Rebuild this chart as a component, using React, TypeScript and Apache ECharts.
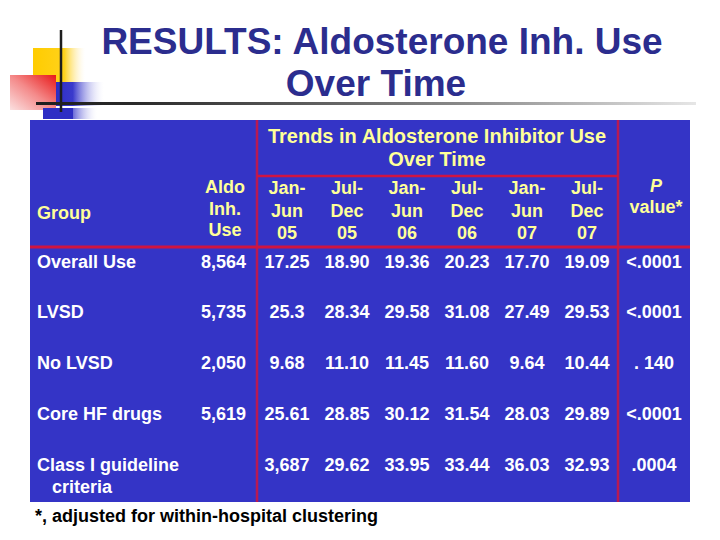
import React, { useEffect, useRef } from "react";
import * as echarts from "echarts";

const titleLines = ["RESULTS: Aldosterone Inh. Use", "Over Time"];
const trendsTitle = ["Trends in Aldosterone Inhibitor Use", "Over Time"];
const groupHeader = "Group";
const aldoHeader = ["Aldo", "Inh.", "Use"];
const periodHeaders = [
  ["Jan-", "Jun", "05"],
  ["Jul-", "Dec", "05"],
  ["Jan-", "Jun", "06"],
  ["Jul-", "Dec", "06"],
  ["Jan-", "Jun", "07"],
  ["Jul-", "Dec", "07"],
];
const pHeader = ["P", "value*"];
const groups = [["Overall Use"], ["LVSD"], ["No LVSD"], ["Core HF drugs"], ["Class I guideline", "   criteria"]];
const aldoCounts = ["8,564", "5,735", "2,050", "5,619", ""];
const rateOverall = ["17.25", "18.90", "19.36", "20.23", "17.70", "19.09"];
const rateLVSD = ["25.3", "28.34", "29.58", "31.08", "27.49", "29.53"];
const rateNoLVSD = ["9.68", "11.10", "11.45", "11.60", "9.64", "10.44"];
const rateCoreHF = ["25.61", "28.85", "30.12", "31.54", "28.03", "29.89"];
const rateClassI = ["3,687", "29.62", "33.95", "33.44", "36.03", "32.93"];
const pValues = ["<.0001", "<.0001", ". 140", "<.0001", ".0004"];
const footnote = "*, adjusted for within-hospital clustering";

const rates = [rateOverall, rateLVSD, rateNoLVSD, rateCoreHF, rateClassI];

export default function App() {
  const ref = useRef<HTMLDivElement>(null);
  useEffect(() => {
    if (!ref.current) return;
    const chart = echarts.init(ref.current, null, { renderer: "svg" });
    const F = "Liberation Sans, Arial, sans-serif";
    const yellow = "#FFFF99";
    const white = "#FFFFFF";
    const tableBg = "#3434C6";
    const red = "#D01440";
    const vred = "#B81A52";
    const tx = (text: string, x: number, y: number, size: number, fill: string, align = "center", weight = "bold", style = "normal") => ({
      type: "text",
      z: 10,
      style: {
        text,
        x,
        y,
        fill,
        font: `${style} ${weight} ${size}px ${F}`,
        textAlign: align,
        textVerticalAlign: "middle",
      },
    });
    const els: any[] = [];
    // decoration
    els.push({
      type: "rect",
      shape: { x: 33, y: 48, width: 52, height: 35 },
      style: {
        fill: new echarts.graphic.LinearGradient(0, 0, 1, 0, [
          { offset: 0, color: "#FFCC00" },
          { offset: 0.6, color: "#FFD21A" },
          { offset: 1, color: "rgba(255,240,200,0)" },
        ]),
      },
    });
    els.push({
      type: "rect",
      shape: { x: 56, y: 82, width: 48, height: 24 },
      style: {
        fill: new echarts.graphic.LinearGradient(0, 0, 1, 0, [
          { offset: 0, color: "#2E2EC4" },
          { offset: 0.35, color: "#3A3ACC" },
          { offset: 1, color: "rgba(230,230,250,0)" },
        ]),
      },
    });
    els.push({
      type: "rect",
      shape: { x: 10, y: 75, width: 46, height: 35 },
      style: {
        fill: new echarts.graphic.LinearGradient(0, 1, 1, 0, [
          { offset: 0, color: "#FBE0E0" },
          { offset: 0.5, color: "#F48A8A" },
          { offset: 1, color: "#E81818" },
        ]),
      },
    });
    els.push({
      type: "rect",
      shape: { x: 43, y: 108, width: 30, height: 11 },
      style: { fill: "#2E2EC4" },
    });
    els.push({
      type: "rect",
      shape: { x: 73, y: 108, width: 24, height: 11 },
      style: {
        fill: new echarts.graphic.LinearGradient(0, 0, 1, 0, [
          { offset: 0, color: "#6A6AD8" },
          { offset: 1, color: "rgba(230,230,250,0)" },
        ]),
      },
    });
    els.push({
      type: "line",
      shape: { x1: 61, y1: 30, x2: 61, y2: 112 },
      style: { stroke: "#1E1E1E", lineWidth: 2.5 },
      z: 5,
    });
    els.push({
      type: "rect",
      shape: { x: 36, y: 102, width: 660, height: 3 },
      style: {
        fill: new echarts.graphic.LinearGradient(0, 0, 1, 0, [
          { offset: 0, color: "#1E1E1E" },
          { offset: 0.15, color: "#2A2A2A" },
          { offset: 0.65, color: "#8A8A8A" },
          { offset: 1, color: "#E6E6E6" },
        ]),
      },
      z: 5,
    });
    // title
    els.push(tx(titleLines[0], 382, 41, 37, "#2B2D8E"));
    els.push(tx(titleLines[1], 376, 83, 37, "#2B2D8E"));
    // table
    els.push({ type: "rect", shape: { x: 30, y: 120, width: 660, height: 382 }, style: { fill: tableBg }, z: 1 });
    els.push({ type: "line", shape: { x1: 257, y1: 176, x2: 618, y2: 176 }, style: { stroke: red, lineWidth: 2.5 }, z: 3 });
    els.push({ type: "line", shape: { x1: 30, y1: 247, x2: 690, y2: 247 }, style: { stroke: red, lineWidth: 3 }, z: 3 });
    els.push({ type: "line", shape: { x1: 257, y1: 120, x2: 257, y2: 502 }, style: { stroke: vred, lineWidth: 2.5 }, z: 2 });
    els.push({ type: "line", shape: { x1: 618, y1: 120, x2: 618, y2: 502 }, style: { stroke: vred, lineWidth: 2.5 }, z: 2 });
    // header
    els.push(tx(trendsTitle[0], 437, 136, 20, yellow));
    els.push(tx(trendsTitle[1], 437, 159, 20, yellow));
    els.push(tx(groupHeader, 37, 213, 18, yellow, "left"));
    aldoHeader.forEach((t, i) => els.push(tx(t, 225, 187 + i * 21.5, 18, yellow)));
    const colX = [287, 347, 407, 467, 527, 587];
    periodHeaders.forEach((lines, c) =>
      lines.forEach((t, i) => els.push(tx(t, colX[c], 188 + i * 22.5, 18, yellow)))
    );
    els.push(tx(pHeader[0], 656, 186, 18, yellow, "center", "bold", "italic"));
    els.push(tx(pHeader[1], 656, 207, 18, yellow));
    // body
    const rowY = [262, 312, 363, 414, 465];
    groups.forEach((lines, r) =>
      lines.forEach((t, i) => els.push(tx(t, 37, rowY[r] + i * 22, 18, white, "left")))
    );
    aldoCounts.forEach((t, r) => {
      if (t) els.push(tx(t, 246, rowY[r], 18, white, "right"));
    });
    rates.forEach((row, r) => row.forEach((t, c) => els.push(tx(t, colX[c], rowY[r], 18, white))));
    pValues.forEach((t, r) => els.push(tx(t, 654, rowY[r], 18, white)));
    els.push(tx(footnote, 35, 516, 18, "#000000", "left"));

    chart.setOption({
      animation: false,
      backgroundColor: "#FFFFFF",
      graphic: { elements: els },
    });
    return () => chart.dispose();
  }, []);
  return (
    <div
      ref={ref}
      style={{ position: "fixed", left: 0, top: 0, width: 720, height: 540 }}
    />
  );
}
